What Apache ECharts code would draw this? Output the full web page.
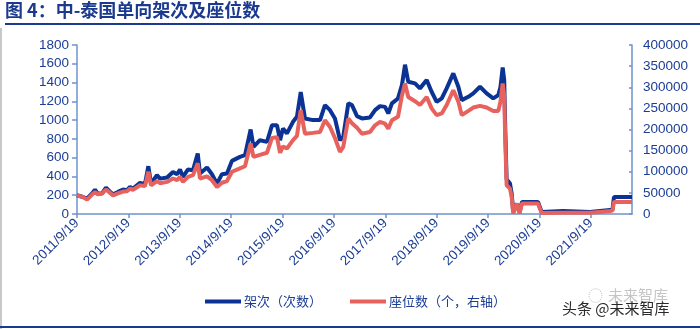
<!DOCTYPE html>
<html>
<head>
<meta charset="utf-8">
<script src="https://cdn.jsdelivr.net/npm/echarts@6/dist/echarts.min.js"></script>
<style>
  html, body { margin: 0; padding: 0; background: #fff; }
  #chart { width: 700px; height: 329px; }
</style>
</head>
<body>
<div id="chart"></div>
<script>
// Weekly China–Thailand one-way flights and seats (sampled points)
const dates = [
  '2011-09-19','2011-11-01','2011-11-29','2012-01-04','2012-01-25','2012-02-12','2012-03-15','2012-04-12',
  '2012-05-11','2012-06-01','2012-07-06','2012-08-11','2012-09-08','2012-09-30','2012-10-21','2012-12-10',
  '2013-01-14','2013-02-07','2013-02-26','2013-04-09','2013-05-01','2013-06-20','2013-08-01','2013-08-30',
  '2013-09-20','2013-10-11','2013-11-16','2013-12-21','2014-01-24','2014-02-09','2014-03-31','2014-05-05',
  '2014-06-10','2014-07-15','2014-08-20','2014-09-24','2014-11-20','2014-12-26','2015-02-04','2015-02-24',
  '2015-04-11','2015-05-31','2015-07-06','2015-08-10','2015-09-01','2015-09-22','2015-10-20','2015-12-02',
  '2015-12-30','2016-01-26','2016-02-25','2016-04-22','2016-06-11','2016-07-16','2016-08-21','2016-09-25',
  '2016-10-31','2016-11-23','2016-12-29','2017-01-24','2017-03-01','2017-04-05','2017-06-01','2017-07-07',
  '2017-08-11','2017-09-16','2017-10-09','2017-11-04','2017-12-17','2018-01-14','2018-02-05','2018-02-28',
  '2018-04-17','2018-05-22','2018-07-09','2018-08-13','2018-09-18','2018-10-24','2018-11-28','2019-01-14',
  '2019-02-19','2019-03-15','2019-05-01','2019-06-05','2019-07-23','2019-09-08','2019-10-25','2019-11-30',
  '2019-12-15','2019-12-31','2020-01-11','2020-01-18','2020-01-28','2020-02-21','2020-03-04','2020-03-15',
  '2020-04-09','2020-04-29','2020-05-16','2020-09-07','2020-10-03','2021-03-04','2021-09-12','2021-11-22',
  '2022-02-01','2022-02-18','2022-03-01','2022-07-07'
];

// 架次（次数）
const flights = [
  200,181,164,218,260,218,220,282,
  235,210,235,260,253,288,270,331,
  317,509,324,413,377,388,448,424,
  474,395,474,466,645,431,495,424,
  324,424,431,566,608,626,900,715,
  786,768,946,946,786,911,858,982,
  1035,1300,1018,1000,1000,1160,1106,1018,
  786,821,1178,1160,1042,1018,1028,1106,
  1149,1141,1071,1178,1231,1373,1590,1408,
  1391,1338,1427,1302,1195,1231,1338,1498,
  1355,1213,1248,1285,1355,1285,1231,1267,
  1350,1560,1427,928,370,324,218,21,
  111,21,128,128,21,32,21,32,
  43,45,181,181
];

// 座位数（个，右轴）
const seats = [
  44000,40000,34000,46000,52000,47000,48000,58000,
  50000,44000,49000,53000,54000,60000,57000,68000,
  66000,100000,68000,78000,73000,76000,84000,80000,
  88000,76000,88000,92000,120000,84000,89000,80000,
  64000,74000,78000,100000,108000,113000,167000,135000,
  140000,145000,180000,182000,145000,160000,155000,175000,
  185000,246000,190000,192000,194000,222000,206000,180000,
  147000,159000,226000,215000,204000,190000,194000,210000,
  218000,214000,202000,222000,230000,280000,309000,277000,
  267000,258000,277000,250000,234000,238000,258000,293000,
  266000,234000,244000,252000,256000,252000,244000,244000,
  265000,309000,280000,180000,68000,60000,40000,1000,
  24700,1000,25000,25000,2500,3000,3000,5000,
  7000,8000,28500,28500
];

const leftTicks = [0, 1800, 200];
const rightTicks = [0, 400000, 50000];
const startDate = '2011-09-19';
const endDate = '2022-07-07';

const DAY = 86400000;
const YEAR_DAYS = 365.25;
const t0 = Date.parse(startDate);
const dayOf = s => (Date.parse(s) - t0) / DAY;
const xs = dates.map(dayOf);

const navy = '#0b3394';
const red = '#e8625d';
const labelColor = '#1b3d96';
const axisColor = '#6f93cd';
const font = 'Arial, "Liberation Sans", sans-serif';
const cjk = '"Noto Sans CJK SC", sans-serif';
const plain = v => String(v);

const chart = echarts.init(document.getElementById('chart'));
chart.setOption({
  animation: false,
  backgroundColor: '#fff',
  grid: { left: 77, right: 68, top: 45, bottom: 115 },
  legend: {
    left: 205, top: 295, padding: 0,
    itemWidth: 36, itemHeight: 4, itemGap: 28,
    icon: 'rect',
    textStyle: { color: labelColor, fontSize: 13, fontFamily: cjk, padding: [0, 0, 0, -2] },
    data: ['架次（次数）', '座位数（个，右轴）']
  },
  xAxis: {
    type: 'value',
    min: 0,
    max: dayOf(endDate),
    interval: YEAR_DAYS,
    splitLine: { show: false },
    axisLine: { lineStyle: { color: axisColor, width: 1.5 } },
    axisTick: { length: 4, lineStyle: { color: axisColor, width: 1.5 } },
    axisLabel: {
      rotate: 45, color: labelColor, fontSize: 13.5, fontFamily: font, margin: 7,
      showMaxLabel: false,
      formatter: v => {
        const k = v / YEAR_DAYS;
        if (Math.abs(k - Math.round(k)) > 0.01) return '';
        return (2011 + Math.round(k)) + '/9/19';
      }
    }
  },
  yAxis: [
    {
      type: 'value', min: leftTicks[0], max: leftTicks[1], interval: leftTicks[2],
      splitLine: { show: false },
      axisLine: { show: true, lineStyle: { color: axisColor, width: 1.5 } },
      axisTick: { show: true, length: 5, lineStyle: { color: axisColor, width: 1.5 } },
      axisLabel: { color: labelColor, fontSize: 13.5, fontFamily: font, margin: 8, formatter: plain }
    },
    {
      type: 'value', min: rightTicks[0], max: rightTicks[1], interval: rightTicks[2],
      position: 'right',
      splitLine: { show: false },
      axisLine: { show: true, lineStyle: { color: axisColor, width: 1.5 } },
      axisTick: { show: true, inside: true, length: 3, lineStyle: { color: axisColor, width: 1.5 } },
      axisLabel: { color: labelColor, fontSize: 13.5, fontFamily: font, margin: 11, formatter: plain }
    }
  ],
  series: [
    {
      name: '架次（次数）', type: 'line', yAxisIndex: 0,
      data: xs.map((x, i) => [x, flights[i]]),
      showSymbol: false, smooth: false,
      lineStyle: { color: navy, width: 4 },
      itemStyle: { color: navy }
    },
    {
      name: '座位数（个，右轴）', type: 'line', yAxisIndex: 1,
      data: xs.map((x, i) => [x, seats[i]]),
      showSymbol: false, smooth: false,
      lineStyle: { color: red, width: 4 },
      itemStyle: { color: red }
    }
  ],
  graphic: [
    { type: 'rect', left: 0, top: 28, shape: { width: 2, height: 301 }, style: { fill: '#c8c8c8' } },
    {
      type: 'text', left: 5, top: 1,
      style: { text: '图 4：中-泰国单向架次及座位数', fill: '#1b3a8f', font: 'bold 18px ' + cjk }
    },
    { type: 'rect', left: 5, top: 23, shape: { width: 695, height: 2 }, style: { fill: '#1b3a8f' } },
    { type: 'rect', left: 0, top: 326, shape: { width: 700, height: 2 }, style: { fill: '#1b3a8f' } },
    {
      type: 'text', left: 608, top: 288,
      style: { text: '未来智库', fill: 'rgba(150,150,150,0.55)', font: '15px ' + cjk }
    },
    {
      type: 'text', left: 588, top: 288,
      style: { text: '◌', fill: 'rgba(150,150,150,0.55)', font: '15px ' + cjk }
    },
    {
      type: 'text', left: 562, top: 301,
      style: { text: '头条 @未来智库', fill: '#2a2a2a', font: '15px ' + cjk }
    }
  ]
});
</script>
</body>
</html>
